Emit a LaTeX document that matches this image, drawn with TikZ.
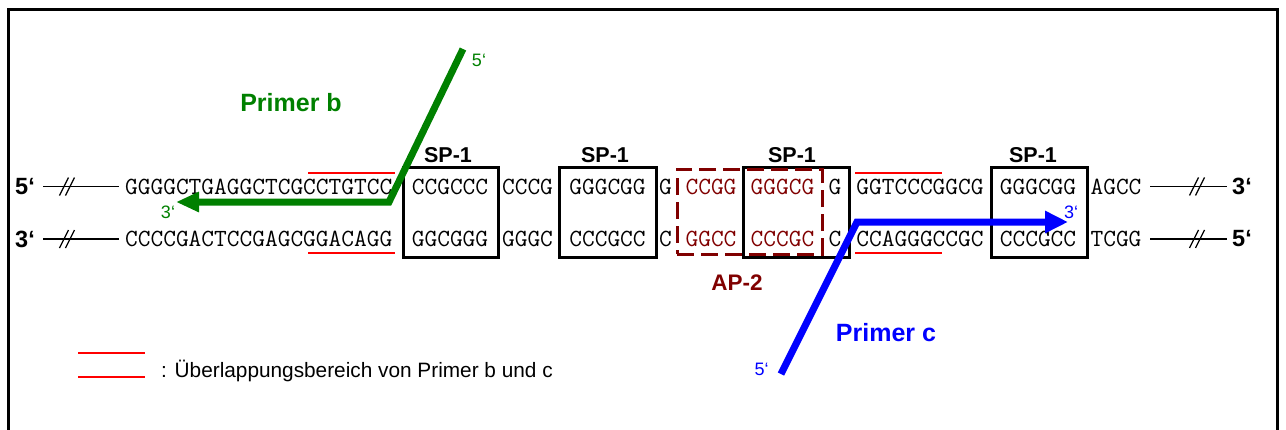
\documentclass[tikz,border=0pt]{standalone}
\usepackage{fontspec}
\setmainfont{Liberation Sans}
\usetikzlibrary{arrows.meta}
\definecolor{pgreen}{RGB}{0,128,0}
\definecolor{pblue}{RGB}{0,0,255}
\definecolor{apred}{RGB}{128,0,0}
\definecolor{ovred}{RGB}{255,0,0}
\begin{document}
\begin{tikzpicture}[x=1pt,y=-1pt,
  seq/.style={inner sep=0pt, font=\fontsize{24.7}{26}\selectfont\ttfamily},
  apseq/.style={seq, text=apred},
  endlab/.style={inner sep=0pt, font=\fontsize{23.5}{25}\selectfont\bfseries},
  splab/.style={inner sep=0pt, font=\fontsize{21.5}{23}\selectfont\bfseries},
  spbox/.style={draw, line width=3pt, minimum height=90pt, inner sep=0pt},
  apbox/.style={draw=apred, line width=3pt, dash pattern=on 17pt off 7pt, minimum height=85pt, minimum width=145pt, inner sep=0pt},
  overlap/.style={draw=ovred, line width=2pt},
  endline/.style={draw, line width=1.5pt},
  primerb/.style={draw=pgreen, line width=7pt, line join=miter, -{Triangle[length=23pt,width=19pt]}},
  primerc/.style={draw=pblue, line width=7pt, line join=miter, -{Triangle[length=23pt,width=21pt]}},
  primtitle/.style={inner sep=0pt, font=\fontsize{25}{27}\selectfont\bfseries},
  endtag/.style={inner sep=0pt, font=\fontsize{18}{20}\selectfont},
  legtext/.style={inner sep=0pt, font=\fontsize{20.8}{23}\selectfont}
]
\useasboundingbox (0,0) rectangle (1286,429);
\clip (0,0) rectangle (1286,429);
% frame
\draw[line width=3pt] (8,9) rectangle (1277,450);

% overlap marks
\coordinate (ovTLa) at (308,172.5); \coordinate (ovTLb) at (395,172.5);
\coordinate (ovBLa) at (308,253);   \coordinate (ovBLb) at (395,253);
\coordinate (ovTRa) at (855,172.5); \coordinate (ovTRb) at (942,172.5);
\coordinate (ovBRa) at (855,253);   \coordinate (ovBRb) at (942,253);
\draw[overlap] (ovTLa) -- (ovTLb);
\draw[overlap] (ovBLa) -- (ovBLb);
\draw[overlap] (ovTRa) -- (ovTRb);
\draw[overlap] (ovBRa) -- (ovBRb);

% SP-1 boxes
\node[spbox, minimum width=95pt]  (box1) at (450.5,212) {};
\node[spbox, minimum width=97pt]  (box2) at (607.5,212) {};
\node[spbox, minimum width=106pt] (box3) at (796,212) {};
\node[spbox, minimum width=96pt]  (box4) at (1039,212) {};
\node[splab] (sp1) at (448,155.5) {SP-1};
\node[splab] (sp2) at (605,155.5) {SP-1};
\node[splab] (sp3) at (792,155.5) {SP-1};
\node[splab] (sp4) at (1033,155.5) {SP-1};

% strand end labels
\node[endlab] (l5) at (25,186.5) {5‘};
\node[endlab] (l3) at (25,239) {3‘};
\node[endlab] (r3) at (1242,186.5) {3‘};
\node[endlab] (r5) at (1242,239) {5‘};

% end lines with break marks
\coordinate (ltA) at (43,186.5);  \coordinate (ltB) at (119,186.5);
\coordinate (lbA) at (43,239);    \coordinate (lbB) at (119,239);
\coordinate (rtA) at (1150,186.5); \coordinate (rtB) at (1227,186.5);
\coordinate (rbA) at (1150,239);   \coordinate (rbB) at (1227,239);
\draw[endline] (ltA) -- (ltB);
\draw[endline] (lbA) -- (lbB);
\draw[endline] (rtA) -- (rtB);
\draw[endline] (rbA) -- (rbB);
\foreach \x/\y in {64/186.5, 70/186.5, 64/239, 70/239, 1194/186.5, 1200/186.5, 1194/239, 1200/239}{
  \draw[line width=1.3pt] (\x-4.5,\y+9) -- (\x+4.5,\y-9);
}

% top strand
\node[seq] (t1) at (258.7,186.5) {GGGGCTGAGGCTCGCCTGTCC};
\node[seq] (t2) at (450,186.5) {CCGCCC};
\node[seq] (t3) at (527.5,186.5) {CCCG};
\node[seq] (t4) at (607.5,186.5) {GGGCGG};
\node[seq] (t5) at (665.5,186.5) {G};
\node[apseq] (t6) at (711,186.5) {CCGG};
\node[apseq] (t7) at (782.5,186.5) {GGGCG};
\node[seq] (t8) at (835,186.5) {G};
\node[seq] (t9) at (920,186.5) {GGTCCCGGCG};
\node[seq] (t10) at (1038,186.5) {GGGCGG};
\node[seq] (t11) at (1116,186.5) {AGCC};

% bottom strand
\node[seq] (u1) at (258.7,239) {CCCCGACTCCGAGCGGACAGG};
\node[seq] (u2) at (450,239) {GGCGGG};
\node[seq] (u3) at (527.5,239) {GGGC};
\node[seq] (u4) at (607.5,239) {CCCGCC};
\node[seq] (u5) at (665.5,239) {C};
\node[apseq] (u6) at (711,239) {GGCC};
\node[apseq] (u7) at (782.5,239) {CCCGC};
\node[seq] (u8) at (835,239) {C};
\node[seq] (u9) at (920,239) {CCAGGGCCGC};
\node[seq] (u10) at (1038,239) {CCCGCC};
\node[seq] (u11) at (1116,239) {TCGG};

% AP-2 box
\node[apbox] (ap) at (749.5,211.5) {};
\node[splab, text=apred, font=\fontsize{22.5}{24}\selectfont\bfseries] (aplab) at (737,283) {AP-2};

% primer b
\coordinate (b5) at (463,49);
\coordinate (bk) at (389,202);
\coordinate (b3) at (176,202);
\draw[primerb] (b5) -- (bk) -- (b3);
\node[primtitle, text=pgreen] (pb) at (291,103) {Primer b};
\node[endtag, text=pgreen] (pb5) at (479,60) {5‘};
\node[endtag, text=pgreen] (pb3) at (168,212.5) {3‘};

% primer c
\coordinate (c5) at (781,374);
\coordinate (ck) at (857,222);
\coordinate (c3) at (1068,222);
\draw[primerc] (c5) -- (ck) -- (c3);
\node[primtitle, text=pblue] (pc) at (886,333) {Primer c};
\node[endtag, text=pblue] (pc5) at (761.5,369.5) {5‘};
\node[endtag, text=pblue] (pc3) at (1071,212) {3‘};

% legend
\coordinate (lg1a) at (78,353); \coordinate (lg1b) at (145,353);
\coordinate (lg2a) at (78,377); \coordinate (lg2b) at (145,377);
\draw[overlap] (lg1a) -- (lg1b);
\draw[overlap] (lg2a) -- (lg2b);
\node[legtext, anchor=base west] (leg) at (161,377.5) {: Überlappungsbereich von Primer b und c};
\end{tikzpicture}
\end{document}
